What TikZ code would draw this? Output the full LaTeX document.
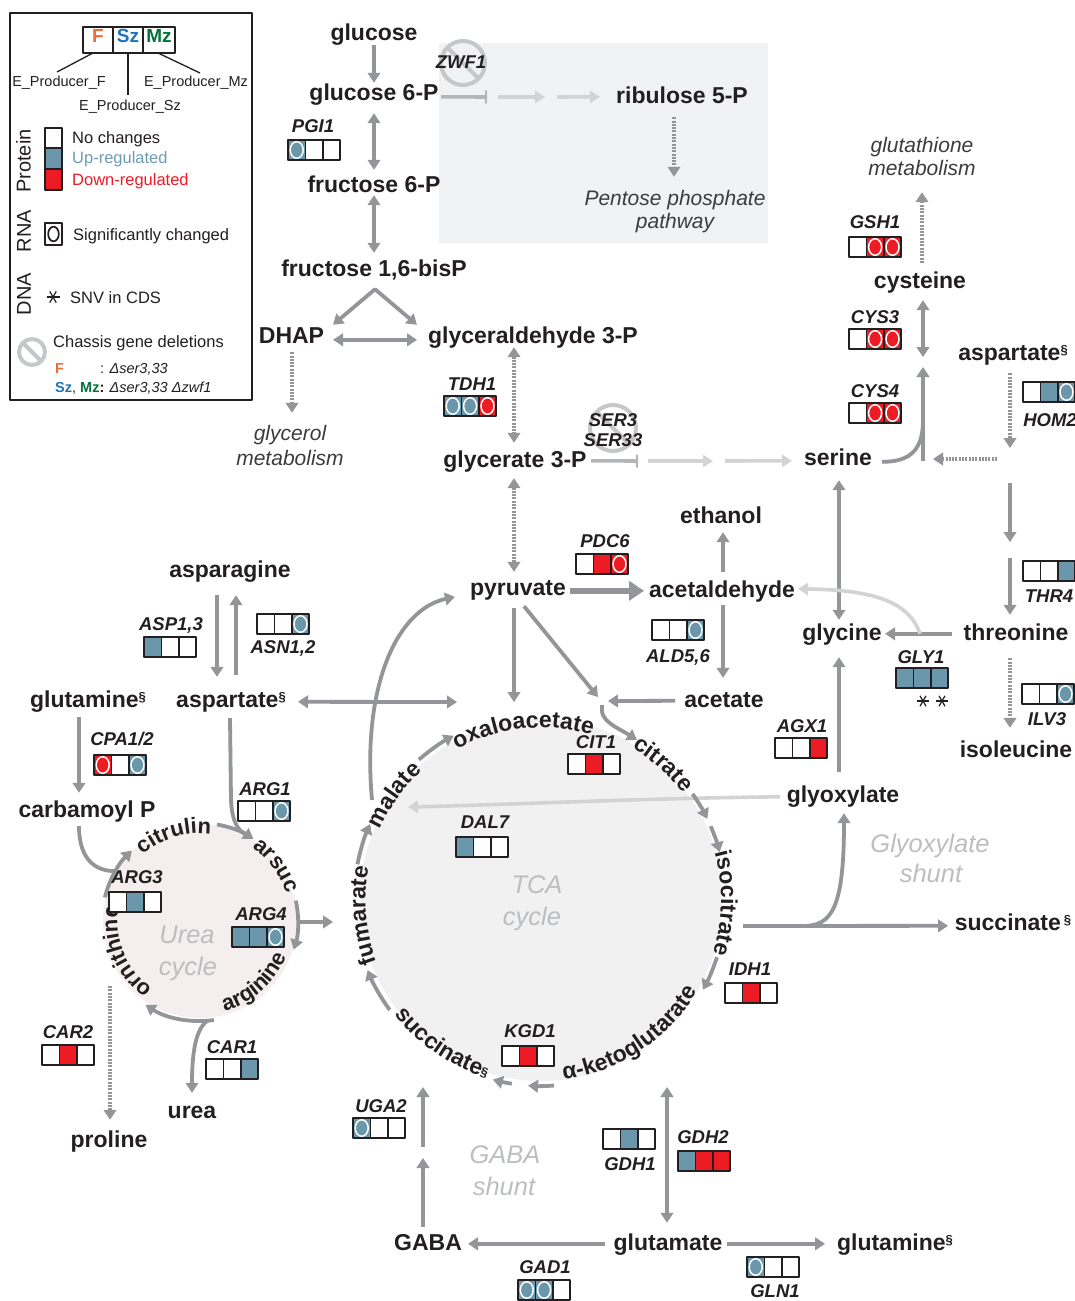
\documentclass[tikz,border=0pt]{standalone}
\usepackage{fontspec}
\setmainfont{Liberation Sans}
\usetikzlibrary{arrows.meta,calc,decorations.text}
\definecolor{txt}{HTML}{231F20}
\definecolor{agrey}{HTML}{939598}
\definecolor{mgrey}{HTML}{B3B5B7}
\definecolor{lgrey}{HTML}{D2D3D5}
\definecolor{bc}{HTML}{6A97AB}
\definecolor{rc}{HTML}{ED1C24}
\definecolor{tcabg}{HTML}{F1F1F2}
\definecolor{ureabg}{HTML}{F4EEEE}
\definecolor{pppbg}{HTML}{F1F2F4}
\definecolor{cycg}{HTML}{BCBEC0}
\definecolor{pathg}{HTML}{3C3C3E}
\definecolor{signg}{HTML}{C6C7C9}
\definecolor{fcol}{HTML}{F26A36}
\definecolor{szcol}{HTML}{1C75BC}
\definecolor{mzcol}{HTML}{00743A}
\definecolor{upcol}{HTML}{6E9CB3}
\newcommand\tcaf{\fontsize{23}{23}\selectfont\bfseries\color{txt}}
\newcommand\tcas{\fontsize{13}{13}\selectfont\bfseries\color{txt}}
\newcommand\ureaf{\fontsize{22}{22}\selectfont\bfseries\color{txt}}
\newcommand\sect{{\fontsize{13}{13}\selectfont\raisebox{6pt}{§}}}
\newcommand\gcell[4]{%
 \fill[#3] ({#1},{#2}) rectangle ++(17.4,20);
 \ifnum#4=1\relax\draw[white,line width=1.5pt] ({#1+8.7},{#2+10}) ellipse[x radius=6.5,y radius=8.3];\fi
 \draw[boxline] ({#1},{#2}) rectangle ++(17.4,20);}
\newcommand\gbox[8]{\gcell{#1}{#2}{#3}{#4}\gcell{#1+17.4}{#2}{#5}{#6}\gcell{#1+34.8}{#2}{#7}{#8}}
\newcommand\arctext[5]{\path[decorate,decoration={text along path,text align=center,text={#5}}] ($(#1)+({-(#3)}:#2)$) arc[start angle={-(#3)},end angle={-(#4)},radius=#2];}
\newcommand\nosign[3]{\draw[signg,line width=4pt] (#1,#2) circle[radius=#3];
 \draw[signg,line width=4pt] ({#1-0.707*#3},{#2-0.707*#3}) -- ({#1+0.707*#3},{#2+0.707*#3});}
\newcommand\astk[3]{\foreach \a in {0,60,120}{\draw[txt,line width=1.2pt] ($(#1,#2)+(\a:#3)$) -- ($(#1,#2)+(\a+180:#3)$);}}
\begin{document}
\begin{tikzpicture}[x=1pt,y=-1pt,line join=round,
 boxline/.style={draw=txt,line width=1.6pt},
 met/.style={font=\fontsize{23}{23}\selectfont\bfseries,text=txt,inner sep=0pt,anchor=base,text height=17pt,text depth=5pt},
 gene/.style={font=\fontsize{18.5}{18.5}\selectfont\bfseries\itshape,text=txt,inner sep=0pt,anchor=base},
 pathl/.style={font=\fontsize{21}{21}\selectfont\itshape,text=pathg,inner sep=0pt,anchor=base,text height=15pt,text depth=5pt},
 cycl/.style={font=\fontsize{25.5}{25.5}\selectfont\itshape,text=cycg,inner sep=0pt,anchor=base},
 leg/.style={font=\fontsize{16.5}{16.5}\selectfont,text=txt,inner sep=0pt,anchor=base west},
 legs/.style={font=\fontsize{14.5}{14.5}\selectfont,text=txt,inner sep=0pt,anchor=base},
 legsm/.style={font=\fontsize{14.5}{14.5}\selectfont,text=txt,inner sep=0pt,anchor=base west},
 arr/.style={draw=agrey,line width=3.8pt,-{Triangle[length=10pt,width=12.5pt]}},
 darr/.style={draw=agrey,line width=3.8pt,{Triangle[length=10pt,width=12.5pt]}-{Triangle[length=10pt,width=12.5pt]}},
 ln/.style={draw=agrey,line width=3.8pt},
 dotarr/.style={draw=agrey,line width=3.6pt,dash pattern=on 2pt off 1.3pt,-{Triangle[length=10pt,width=12.5pt]}},
 ddotarr/.style={draw=agrey,line width=3.6pt,dash pattern=on 2pt off 1.3pt,{Triangle[length=10pt,width=12.5pt]}-{Triangle[length=10pt,width=12.5pt]}},
 larr/.style={draw=lgrey,line width=3.6pt,-{Triangle[length=10pt,width=12pt]}},
 mbar/.style={draw=mgrey,line width=3.6pt,-{Bar[width=13pt,line width=2pt]}},
 tharr/.style={draw=agrey,line width=6.5pt,-{Triangle[length=15pt,width=19pt]}}]
\useasboundingbox (0,0) rectangle (1074,1301);
\fill[white] (0,0) rectangle (1074,1301);
% backgrounds
\fill[pppbg] (439,43) rectangle (768,243);
\coordinate (tcac) at (541,900);
\coordinate (ureac) at (200,921);
\fill[tcabg] (tcac) circle[radius=181];
\fill[ureabg] (ureac) circle[radius=97];
% metabolites
\node[met] (glc) at (374,40) {glucose};
\node[met] (g6p) at (374,100) {glucose 6-P};
\node[met] (f6p) at (374,192) {fructose 6-P};
\node[met] (fbp) at (374,276) {fructose 1,6-bisP};
\node[met] (dhap) at (291.5,343) {DHAP};
\node[met] (gap) at (533,343) {glyceraldehyde 3-P};
\node[met] (g3p) at (515,467) {glycerate 3-P};
\node[met] (ru5p) at (682,103) {ribulose 5-P};
\node[met] (cys) at (920,288) {cysteine};
\node[met] (aspr) at (1013,360) {aspartate\sect};
\node[met] (ser) at (838,465) {serine};
\node[met] (etoh) at (721,523) {ethanol};
\node[met] (pyr) at (518,595) {pyruvate};
\node[met] (acald) at (722,597) {acetaldehyde};
\node[met] (acet) at (724,707) {acetate};
\node[met] (glyc) at (842,640) {glycine};
\node[met] (thr) at (1016,640) {threonine};
\node[met] (ile) at (1016,757) {isoleucine};
\node[met] (asn) at (230,577) {asparagine};
\node[met] (glnl) at (88,707) {glutamine\sect};
\node[met] (aspm) at (231,707) {aspartate\sect};
\node[met] (carb) at (87,817) {carbamoyl P};
\node[met] (glx) at (843,802) {glyoxylate};
\node[met] (succr) at (1013,930) {succinate\hspace{3pt}\sect};
\node[met] (urea) at (192,1118) {urea};
\node[met] (pro) at (109,1147) {proline};
\node[met] (gaba) at (428,1250) {GABA};
\node[met] (glu) at (668,1250) {glutamate};
\node[met] (glnb) at (895,1250) {glutamine\sect};
% pathway labels
\node[pathl] (ppp1) at (675,205) {Pentose phosphate};
\node[pathl] (ppp2) at (675,228) {pathway};
\node[pathl] (glyc1) at (290,440) {glycerol};
\node[pathl] (glyc2) at (290,465) {metabolism};
\node[pathl] (gsh1t) at (922,152) {glutathione};
\node[pathl] (gsh2t) at (922,175) {metabolism};
\node[cycl] (urea1) at (187,943) {Urea};
\node[cycl] (urea2) at (188,975) {cycle};
\node[cycl] (tca1) at (537,893) {TCA};
\node[cycl] (tca2) at (532,925) {cycle};
\node[cycl] (gs1) at (930,852) {Glyoxylate};
\node[cycl] (gs2) at (931,882) {shunt};
\node[cycl] (gb1) at (505,1163) {GABA};
\node[cycl] (gb2) at (504,1195) {shunt};
% cycle labels
\arctext{tcac}{172.5}{136}{56}{|\tcaf|oxaloacetate}
\arctext{tcac}{177.5}{78}{18}{|\tcaf|citrate}
\arctext{tcac}{180}{29}{-31}{|\tcaf|isocitrate}
\arctext{tcac}{181}{-96.5}{-16.5}{|\tcaf|α-ketoglutarate}
\arctext{tcac}{186}{205}{266}{|\tcaf|succinate|\tcas|§}
\arctext{tcac}{175.5}{215}{155}{|\tcaf|fumarate}
\arctext{tcac}{175.5}{165}{124}{|\tcaf|malate}
\arctext{ureac}{87.5}{137}{77}{|\ureaf|citrulin}
\arctext{ureac}{90.5}{66}{6}{|\ureaf|arsuc}
\arctext{ureac}{93.5}{-88.5}{-8.5}{|\ureaf|arginine}
\arctext{ureac}{82.5}{245}{160}{|\ureaf|ornithine}
% deletion signs
\nosign{463}{63}{22}
\nosign{613}{428}{23}
% glycolysis
\draw[arr] (glc.south) -- (g6p.north);
\draw[darr] ($(g6p.south)+(0,8)$) -- ($(f6p.north)+(0,-5)$);
\draw[darr] ($(f6p.south)+(0,-2)$) -- ($(fbp.north)+(0,-6)$);
\coordinate (apex) at ($(fbp.south)+(1,8)$);
\draw[darr] ($(dhap.north)+(41.5,-1)$) -- (apex) -- ($(gap.north)+(-116,-1)$);
\draw[darr] ($(dhap.north)+(41.5,14)$) -- ($(gap.north)+(-116,14)$);
\draw[dotarr] ($(dhap.south)+(0.5,4)$) -- ($(glyc1.north)+(2,-12)$);
\draw[ddotarr] ($(gap.south)+(-19,-1)$) -- ($(g3p.north)+(-1,-7)$);
\draw[ddotarr] ($(g3p.south)+(-1,6)$) -- ($(pyr.north)+(-4,-6)$);
% PPP
\coordinate (zbar) at (487,97);
\draw[mbar] ($(g6p.north)+(67,14)$) -- (zbar);
\coordinate (pp1a) at (498,97); \coordinate (pp1b) at (545,97); \coordinate (pp2a) at (557,97);
\draw[larr] (pp1a) -- (pp1b);
\draw[larr] (pp2a) -- ($(ru5p.north)+(-82,11)$);
\draw[dotarr] ($(ru5p.south)+(-8,9)$) -- ($(ppp1.north)+(-1,-13)$);
% serine
\coordinate (sbar) at (638,461);
\draw[mbar] ($(g3p.north)+(76,11)$) -- (sbar);
\coordinate (ss1a) at (648,461); \coordinate (ss1b) at (713,461); \coordinate (ss2a) at (725,461);
\draw[larr] (ss1a) -- (ss1b);
\draw[larr] (ss2a) -- ($(ser.north)+(-46,13)$);
\draw[darr] ($(ser.south)+(1,10)$) -- ($(glyc.north)+(-3,-3)$);
\coordinate (cysj) at (923,461); \coordinate (cysm) at (923,420);
\coordinate (cyst) at (923,367); \coordinate (cysb) at (923,357);
\draw[ln] (cysj) -- (cysm);
\draw[arr] ($(ser.north)+(44,14)$) .. controls (912,462) and (923,448) .. (cysm) -- (cyst);
\draw[darr] ($(cys.south)+(3,7)$) -- (cysb);
\coordinate (homa) at (997,459); \coordinate (homb) at (933,459);
\draw[dotarr] (homa) -- (homb);
\draw[dotarr] ($(cys.north)+(2,-8)$) -- ($(gsh2t.south)+(0,12)$);
\coordinate (hom2t) at (1010,448);
\draw[dotarr] ($(aspr.south)+(-3,8)$) -- (hom2t);
\coordinate (thra) at (1010,483); \coordinate (thrb) at (1010,542); \coordinate (thrc) at (1010,558);
\draw[arr] (thra) -- (thrb);
\draw[arr] (thrc) -- ($(thr.north)+(-6,-8)$);
\draw[arr] ($(thr.north)+(-64,11)$) -- ($(glyc.north)+(43,11)$);
\draw[larr] ($(thr.north)+(-96,11)$) .. controls (908,598) and (865,590) .. ($(acald.north)+(76,9)$);
\draw[dotarr] ($(thr.south)+(-6,13)$) -- ($(ile.north)+(-6,-12)$);
% pyruvate
\draw[tharr] ($(pyr.north)+(52,13)$) -- ($(acald.north)+(-78,11)$);
\draw[arr] ($(acald.north)+(1,-8)$) -- ($(etoh.south)+(2,4)$);
\draw[arr] ($(acald.south)+(1,3)$) -- ($(acet.north)+(-1,-12)$);
\coordinate (citj) at (608,701);
\draw[arr] ($(acet.north)+(-49,11)$) -- (citj);
\coordinate (oaa) at (514,702);
\draw[arr] ($(pyr.south)+(-4,8)$) -- (oaa);
\coordinate (citd) at (598,697);
\draw[arr] ($(pyr.south)+(6,6)$) -- (citd);
\coordinate (hk1) at (602,705); \coordinate (hk2) at (637,740);
\draw[arr] (hk1) -- (602,712) .. controls (604,723) and (620,729) .. (hk2);
\coordinate (oaar) at (457,702);
\draw[darr] ($(aspm.north)+(67,12)$) -- (oaar);
\coordinate (malb) at (372,800);
\draw[arr] (malb) .. controls (362,690) and (395,610) .. ($(pyr.north)+(-63,19)$);
\coordinate (malr) at (408,807);
\draw[larr] ($(glx.north)+(-63,12)$) .. controls (650,798) and (500,805) .. (malr);
\draw[arr] ($(glx.north)+(-4,-13)$) -- ($(glyc.south)+(-3,12)$);
\coordinate (isoa) at (743,926); \coordinate (isob) at (803,926);
\draw[arr] (isoa) -- ($(succr.north)+(-65,13)$);
\draw[arr] (isob) .. controls (832,926) and (844,908) .. ($(glx.south)+(1,6)$);
% GABA shunt
\coordinate (gsa) at (423,1158); \coordinate (gsb) at (423,1147); \coordinate (gsc) at (423,1087);
\draw[arr] ($(gaba.north)+(-5,-6)$) -- (gsa);
\draw[arr] (gsb) -- (gsc);
\draw[arr] ($(glu.north)+(-63,11)$) -- ($(gaba.north)+(40,11)$);
\draw[arr] ($(glu.north)+(59,11)$) -- ($(glnb.north)+(-70,11)$);
\coordinate (akg) at (667,1087);
\draw[darr] ($(glu.north)+(-1,-10)$) -- (akg);
% urea
\draw[arr] ($(asn.south)+(-13,13)$) -- ($(aspm.north)+(-14,-13)$);
\draw[arr] ($(aspm.north)+(5,-15)$) -- ($(asn.south)+(6,13)$);
\draw[arr] ($(glnl.south)+(-9,5)$) -- ($(carb.north)+(-8,-7)$);
\coordinate (cpj) at (117,871);
\draw[ln] ($(carb.south)+(-8,4)$) .. controls (79,862) and (98,872) .. (cpj);
\coordinate (asj) at (249,836);
\draw[ln] ($(aspm.south)+(-1,6)$) -- (231,800) .. controls (232,822) and (238,832) .. (asj);
\coordinate (argu) at (207,1021);
\draw[arr] (argu) .. controls (195,1030) and (192,1055) .. ($(urea.north)+(0,-8)$);
\coordinate (ornp) at (110,986);
\draw[dotarr] (ornp) -- ($(pro.north)+(1,-10)$);
\coordinate (fumb) at (298,922); \coordinate (fume) at (333,922);
\draw[arr] (fumb) -- (fume);
% cycle arcs
\draw[arr] ($(tcac)+(-131:186)$) arc[start angle=-131,end angle=-118,radius=186];
\draw[arr] ($(tcac)+(-35:185)$) arc[start angle=-35,end angle=-26,radius=185];
\draw[arr] ($(tcac)+(-23.5:185)$) arc[start angle=-23.5,end angle=-15,radius=185];
\draw[arr] ($(tcac)+(18:185)$) arc[start angle=18,end angle=29,radius=185];
\draw[arr] ($(tcac)+(86:186)$) arc[start angle=86,end angle=94,radius=186];
\draw[arr] ($(tcac)+(99:186)$) arc[start angle=99,end angle=105,radius=186];
\draw[arr] ($(tcac)+(-216:187)$) arc[start angle=-216,end angle=-202,radius=187];
\draw[arr] ($(tcac)+(-169:187)$) arc[start angle=-169,end angle=-156,radius=187];
\draw[arr] ($(ureac)+(-166:98)$) arc[start angle=-166,end angle=-134,radius=98];
\draw[arr] ($(ureac)+(-80:98)$) arc[start angle=-80,end angle=-57,radius=98];
\draw[arr] ($(ureac)+(-12:98)$) arc[start angle=-12,end angle=17,radius=98];
\draw[arr] ($(ureac)+(82:100)$) arc[start angle=82,end angle=123,radius=100];
% gene labels and boxes
\node[gene] (zwf1) at (461,68) {ZWF1};
\node[gene] (pgi1) at (313,132) {PGI1};
\gbox{288}{140}{bc}{1}{white}{0}{white}{0}
\node[gene] (tdh1) at (472,390) {TDH1};
\gbox{444}{396}{bc}{1}{bc}{1}{rc}{1}
\node[gene] (ser3) at (613,426) {SER3};
\node[gene] (ser33) at (613,446) {SER33};
\node[gene] (gsh1) at (875,228) {GSH1};
\gbox{849}{237}{white}{0}{rc}{1}{rc}{1}
\node[gene] (cys3) at (875,323) {CYS3};
\gbox{849}{329}{white}{0}{rc}{1}{rc}{1}
\node[gene] (cys4) at (875,397) {CYS4};
\gbox{849}{403}{white}{0}{rc}{1}{rc}{1}
\node[gene] (hom2) at (1050,426) {HOM2};
\gbox{1023}{382}{white}{0}{bc}{0}{bc}{1}
\node[gene] (thr4) at (1049,602) {THR4};
\gbox{1023}{561}{white}{0}{white}{0}{bc}{0}
\node[gene] (gly1) at (921,663) {GLY1};
\gbox{896}{668}{bc}{0}{bc}{0}{bc}{0}
\astk{923}{701}{6}
\astk{942}{701}{6}
\node[gene] (ilv3) at (1047,725) {ILV3};
\gbox{1022}{684}{white}{0}{white}{0}{bc}{1}
\node[gene] (agx1) at (802,732) {AGX1};
\gbox{775}{738}{white}{0}{white}{0}{rc}{0}
\node[gene] (pdc6) at (605,547) {PDC6};
\gbox{576}{554}{white}{0}{rc}{0}{rc}{1}
\node[gene] (ald56) at (678,662) {ALD5,6};
\gbox{652}{620}{white}{0}{white}{0}{bc}{1}
\node[gene] (cit1) at (596,748) {CIT1};
\gbox{568}{754}{white}{0}{rc}{0}{white}{0}
\node[gene] (dal7) at (485,828) {DAL7};
\gbox{456}{837}{bc}{0}{white}{0}{white}{0}
\node[gene] (idh1) at (750,975) {IDH1};
\gbox{725}{983}{white}{0}{rc}{0}{white}{0}
\node[gene] (kgd1) at (530,1037) {KGD1};
\gbox{502}{1046}{white}{0}{rc}{0}{white}{0}
\node[gene] (uga2) at (381,1112) {UGA2};
\gbox{353}{1118}{bc}{1}{white}{0}{white}{0}
\node[gene] (gdh1) at (630,1170) {GDH1};
\gbox{603}{1129}{white}{0}{bc}{0}{white}{0}
\node[gene] (gdh2) at (703,1143) {GDH2};
\gbox{678}{1151}{bc}{0}{rc}{0}{rc}{0}
\node[gene] (gad1) at (545,1273) {GAD1};
\gbox{518}{1280}{bc}{1}{bc}{1}{white}{0}
\node[gene] (gln1) at (775,1297) {GLN1};
\gbox{747}{1257}{bc}{1}{white}{0}{white}{0}
\node[gene] (asp13) at (171,630) {ASP1,3};
\gbox{144}{637}{bc}{0}{white}{0}{white}{0}
\node[gene] (asn12) at (283,653) {ASN1,2};
\gbox{257}{614}{white}{0}{white}{0}{bc}{1}
\node[gene] (cpa12) at (122,745) {CPA1/2};
\gbox{94}{755}{rc}{1}{white}{0}{bc}{1}
\node[gene] (arg1) at (265,795) {ARG1};
\gbox{238}{801}{white}{0}{white}{0}{bc}{1}
\node[gene] (arg3) at (137,883) {ARG3};
\gbox{109}{892}{white}{0}{bc}{0}{white}{0}
\node[gene] (arg4) at (261,920) {ARG4};
\gbox{232}{927}{bc}{0}{bc}{0}{bc}{1}
\node[gene] (car2) at (68,1038) {CAR2};
\gbox{42}{1045}{white}{0}{rc}{0}{white}{0}
\node[gene] (car1) at (232,1053) {CAR1};
\gbox{206}{1059}{white}{0}{white}{0}{bc}{0}
% legend
\draw[draw=txt,line width=1.8pt] (10,13) rectangle (252,400);
\draw[boxline,line width=1.5pt] (83,27) rectangle (113,53);
\draw[boxline,line width=1.5pt] (113,27) rectangle (143,53);
\draw[boxline,line width=1.5pt] (143,27) rectangle (175,53);
\node[font=\fontsize{19}{19}\selectfont\bfseries,text=fcol,anchor=base,inner sep=0pt] (lf) at (98,42) {F};
\node[font=\fontsize{19}{19}\selectfont\bfseries,text=szcol,anchor=base,inner sep=0pt] (lsz) at (128,42) {Sz};
\node[font=\fontsize{19}{19}\selectfont\bfseries,text=mzcol,anchor=base,inner sep=0pt] (lmz) at (159,42) {Mz};
\node[legs] (lpf) at (59,86) {E\_Producer\_F};
\node[legs] (lpmz) at (196,86) {E\_Producer\_Mz};
\node[legs] (lpsz) at (130,110) {E\_Producer\_Sz};
\draw[txt,line width=1.3pt] (93,53) -- (57,72);
\draw[txt,line width=1.3pt] (128,53) -- (128,95);
\draw[txt,line width=1.3pt] (158,53) -- (200,73);
\node[font=\fontsize{20}{20}\selectfont,text=txt,rotate=90,inner sep=0pt] (lprot) at (23.5,161) {Protein};
\node[font=\fontsize{20}{20}\selectfont,text=txt,rotate=90,inner sep=0pt] (lrna) at (24,231) {RNA};
\node[font=\fontsize{20}{20}\selectfont,text=txt,rotate=90,inner sep=0pt] (ldna) at (24,294) {DNA};
\fill[white] (45,128) rectangle (62,148);
\fill[bc] (45,148) rectangle (62,169);
\fill[rc] (45,169) rectangle (62,190);
\draw[boxline,line width=1.8pt] (45,128) rectangle (62,148);
\draw[boxline,line width=1.8pt] (45,148) rectangle (62,169);
\draw[boxline,line width=1.8pt] (45,169) rectangle (62,190);
\node[leg] (lnc) at (72,143) {No changes};
\node[leg,text=upcol] (lup) at (72,163) {Up-regulated};
\node[leg,text=rc] (ldown) at (72,185) {Down-regulated};
\fill[white] (45,223) rectangle (62,245);
\draw[txt,line width=1.7pt] (53.5,234) ellipse[x radius=5.3,y radius=7.3];
\draw[boxline,line width=1.8pt] (45,223) rectangle (62,245);
\node[leg] (lsig) at (73,240) {Significantly changed};
\astk{53}{297}{6.5}
\node[leg] (lsnv) at (70,303) {SNV in CDS};
\nosign{32}{352}{13}
\node[leg] (lchas) at (53,347) {Chassis gene deletions};
\node[legsm,text=fcol,font=\fontsize{14.5}{14.5}\selectfont\bfseries] (ldf) at (55,373) {F};
\node[legsm] (ldf2) at (100,373) {: \textit{Δser3,33}};
\node[legsm] (ldsz) at (55,392) {{\color{szcol}\bfseries Sz}, {\color{mzcol}\bfseries Mz}\textbf{:} \textit{Δser3,33 Δzwf1}};
\end{tikzpicture}
\end{document}
